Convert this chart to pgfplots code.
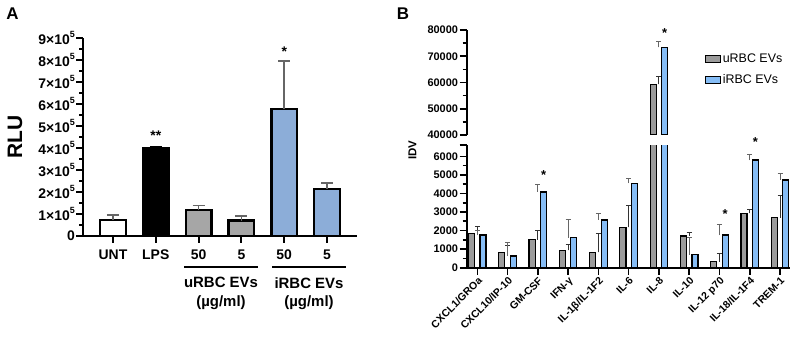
\documentclass[border=0pt]{standalone}
\usepackage{fontspec}
\setmainfont{Liberation Sans}
\usepackage{pgfplots}
\usepackage{pgfplotstable}
\pgfplotsset{compat=1.18}

\definecolor{Agray}{HTML}{A6A6A6}
\definecolor{Ablue}{HTML}{8CADD8}
\definecolor{Bgray}{HTML}{9B9B9B}
\definecolor{Bblue}{HTML}{86BDF6}

% cytokine array, mean and SD (IDV)
\pgfplotstableread{
x y e
0 1850 395
1 830 340
2 1510 500
3 940 300
4 820 1030
5 2170 1200
6 59300 3150
7 1710 200
8 320 450
9 2930 215
10 2690 1225
}\uRBC
\pgfplotstableread{
x y e
0 1760 270
1 630 740
2 4080 410
3 1620 980
4 2570 360
5 4550 245
6 73400 2150
7 690 950
8 1760 590
9 5800 320
10 4730 360
}\iRBC

\newcommand{\sci}[1]{#1×10\raisebox{0.45em}{\fontsize{9}{9}\selectfont 5}}

\pgfplotsset{
  abar/.style={ybar, bar width=0.6, bar shift=0, draw=black, line width=2.4bp,
    error bars/y dir=plus, error bars/y explicit,
    error bars/error bar style={line width=1.5bp, color=#1},
    error bars/error mark options={rotate=90, mark size=6bp, line width=1.5bp, color=#1}},
  bbar/.style={ybar, bar width=0.2, draw=black, line width=1.2bp,
    error bars/y dir=plus, error bars/y explicit,
    error bars/error bar style={line width=1bp, color=#1},
    error bars/error mark options={rotate=90, mark size=2.5bp, line width=1bp, color=#1}},
  boxlegend/.style={legend image code/.code={
    \draw[##1,/tikz/.cd,line width=1.3bp] (0bp,-3.5bp) rectangle (15bp,3.5bp);}},
}

\begin{document}
\begin{tikzpicture}
\useasboundingbox (0,0) rectangle (798bp,338bp);

% ---------------- panel A: luciferase activity ----------------
\begin{axis}[
  at={(83bp,102bp)}, anchor=south west,
  scale only axis, width=274bp, height=198bp,
  xmin=-0.7, xmax=5.7, ymin=0, ymax=900000,
  axis x line*=bottom, axis y line*=left,
  axis line style={line width=2.4bp, -},
  tick style={line width=2bp, black},
  tick align=outside, major tick length=7bp, minor tick length=4bp,
  xtick={0,...,5}, xticklabels={UNT,LPS,50,5,50,5},
  x tick label style={font=\bfseries\fontsize{14}{16}\selectfont, yshift=-3.5bp},
  ytick={0,100000,...,900000},
  yticklabels={0,\sci1,\sci2,\sci3,\sci4,\sci5,\sci6,\sci7,\sci8,\sci9},
  minor y tick num=1,
  scaled y ticks=false,
  y tick label style={font=\bfseries\fontsize{14}{16}\selectfont, inner sep=1bp},
  clip mode=individual,
]
\addplot[abar=black!60, fill=white] coordinates {(0,73000) +- (0,22000)};
\addplot[abar=black, fill=black] coordinates {(1,399000) +- (0,7000)};
\addplot[abar=black!60, fill=Agray] coordinates {(2,118000) +- (0,20000)};
\addplot[abar=black!60, fill=Agray] coordinates {(3,70000) +- (0,21000)};
\addplot[abar=black!60, fill=Ablue] coordinates {(4,576000) +- (0,219000)};
\addplot[abar=black!60, fill=Ablue] coordinates {(5,214000) +- (0,28000)};
\node[anchor=base, font=\bfseries\fontsize{14}{16}\selectfont] at (axis cs:1,432000) {**};
\node[anchor=base, font=\bfseries\fontsize{14}{16}\selectfont] at (axis cs:4,814000) {*};
\end{axis}

% ---------------- panel B: cytokine array, lower segment ----------------
\begin{axis}[
  at={(466.7bp,70.3bp)}, anchor=south west,
  scale only axis, width=323.3bp, height=122.5bp,
  xmin=-0.35, xmax=10.33, ymin=0, ymax=6600,
  axis x line*=bottom, axis y line*=left,
  axis line style={line width=2bp, -},
  tick style={line width=1.6bp, black},
  tick align=outside, major tick length=7bp, minor tick length=4bp,
  xtick={0,...,10},
  xticklabels={CXCL1/GROa, CXCL10/IP-10, GM-CSF, IFN-γ, IL-1β/IL-1F2, IL-6, IL-8, IL-10, IL-12 p70, IL-18/IL-1F4, TREM-1},
  x tick label style={rotate=45, anchor=north east, inner sep=1bp, font=\bfseries\fontsize{10.5}{12}\selectfont},
  ytick={0,1000,...,6000},
  yticklabels={0,1000,2000,3000,4000,5000,6000},
  extra y ticks={6600}, extra y tick labels={},
  minor y tick num=1,
  scaled y ticks=false,
  y tick label style={font=\bfseries\fontsize{11}{13}\selectfont, inner sep=1.5bp},
  clip mode=individual,
]
\addplot[bbar=black!80, fill=Bgray, bar shift=-0.19] table[x=x, y=y, y error=e] {\uRBC};
\addplot[bbar=black!60, fill=Bblue, bar shift=0.19] table[x=x, y=y, y error=e] {\iRBC};
\node[anchor=base, font=\bfseries\fontsize{13}{14}\selectfont] at (axis cs:2.19,4733) {*};
\node[anchor=base, font=\bfseries\fontsize{13}{14}\selectfont] at (axis cs:8.19,2666) {*};
\node[anchor=base, font=\bfseries\fontsize{13}{14}\selectfont] at (axis cs:9.19,6511) {*};
\end{axis}

% ---------------- panel B: upper segment (only IL-8 reaches it) ----------------
\begin{axis}[
  at={(466.7bp,203bp)}, anchor=south west,
  scale only axis, width=323.3bp, height=105bp,
  xmin=-0.35, xmax=10.33, ymin=40000, ymax=80000,
  axis x line=none, axis y line*=left,
  axis line style={line width=2bp, -},
  tick style={line width=1.6bp, black},
  tick align=outside, major tick length=7bp, minor tick length=4bp,
  ytick={40000,50000,...,80000},
  yticklabels={40000,50000,60000,70000,80000},
  minor y tick num=1,
  scaled y ticks=false,
  y tick label style={font=\bfseries\fontsize{11}{13}\selectfont, inner sep=1.5bp},
  clip mode=individual,
  legend style={at={(0.735,0.79)}, anchor=north west, draw=none, fill=none,
    font=\fontsize{12.5}{14}\selectfont, row sep=6bp, inner sep=0pt},
  legend cell align=left,
]
\addplot[bbar=black!80, fill=Bgray, bar shift=-0.19, boxlegend,
  restrict x to domain=5.5:6.5] table[x=x, y=y, y error=e] {\uRBC};
\addlegendentry{uRBC EVs}
\addplot[bbar=black!60, fill=Bblue, bar shift=0.19, boxlegend,
  restrict x to domain=5.5:6.5] table[x=x, y=y, y error=e] {\iRBC};
\addlegendentry{iRBC EVs}
\node[anchor=base, font=\bfseries\fontsize{13}{14}\selectfont] at (axis cs:6.19,77143) {*};
\end{axis}

% panel letters and axis titles
\node[font=\bfseries\fontsize{17}{18}\selectfont] at (12.5bp,324bp) {A};
\node[font=\bfseries\fontsize{17}{18}\selectfont] at (403bp,324bp) {B};
\node[rotate=90, font=\bfseries\fontsize{21}{22}\selectfont] at (15bp,201bp) {RLU};
\node[rotate=90, font=\bfseries\fontsize{11.5}{13}\selectfont] at (412.5bp,188bp) {IDV};

% group brackets under panel A
\draw[line width=2bp] (184bp,71.3bp) -- (258bp,71.3bp);
\draw[line width=2bp] (272bp,71.3bp) -- (346bp,71.3bp);
\node[font=\bfseries\fontsize{15}{17}\selectfont] at (221bp,55.3bp) {uRBC EVs};
\node[font=\bfseries\fontsize{15}{17}\selectfont] at (221bp,35bp) {(µg/ml)};
\node[font=\bfseries\fontsize{15}{17}\selectfont] at (309bp,55.3bp) {iRBC EVs};
\node[font=\bfseries\fontsize{15}{17}\selectfont] at (309bp,35bp) {(µg/ml)};
\end{tikzpicture}
\end{document}
